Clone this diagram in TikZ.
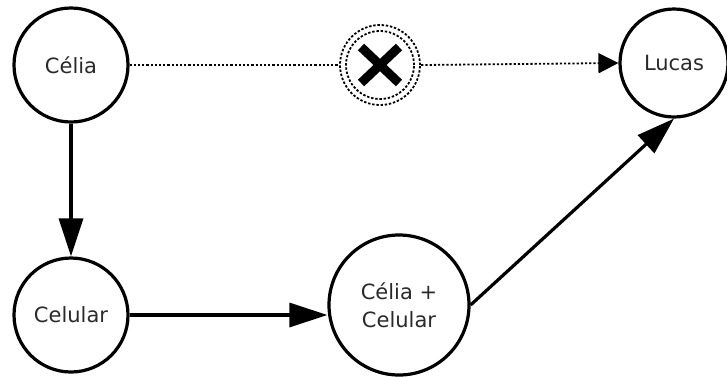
\documentclass[tikz,border=0pt]{standalone}
\usepackage{fontspec}
\setmainfont{DejaVu Sans}
\usetikzlibrary{arrows.meta}
\definecolor{txt}{HTML}{2A2A2A}
\begin{document}
\begin{tikzpicture}[x=1pt,y=-1pt,
  state/.style={circle,draw=black,line width=3.2pt,fill=white,inner sep=0pt,
    text=txt,font=\fontsize{21}{28}\selectfont,align=center},
  flow/.style={line width=3.2pt,-{Triangle[length=38pt,width=24pt]}},
  msg/.style={line width=1.8pt,dash pattern=on 2.2pt off 2pt},
  ring/.style={line width=1.8pt,dash pattern=on 2.4pt off 1.8pt},
]
\useasboundingbox (0,0) rectangle (727,376);
\node[state,minimum size=114pt] (celia) at (71,65) {Célia};
\node[state,minimum size=114pt] (celular) at (71,315) {Celular};
\node[state,minimum size=140pt] (cc) at (399,305) {Célia +\\Celular};
\node[state,minimum size=108pt] (lucas) at (674,63) {Lucas};
\node[circle,minimum size=82pt,inner sep=0pt] (x) at (380,65) {};
\draw[ring] (x.center) circle (40pt);
\draw[ring] (x.center) circle (34pt);
\draw[line width=9pt] (x.center) ++(-19,-18) -- ++(38,36);
\draw[line width=9pt] (x.center) ++(19,-18) -- ++(-38,36);
\draw[flow] (celia) -- (celular);
\draw[flow] (celular.east) -- (celular.east -| cc.west);
\draw[flow] (cc.east) -- (lucas.south);
\draw[msg] (celia.east) -- (x.west);
\draw[msg,-{Triangle[length=20pt,width=20pt]}] (x.east) -- (lucas.west);
\end{tikzpicture}
\end{document}
